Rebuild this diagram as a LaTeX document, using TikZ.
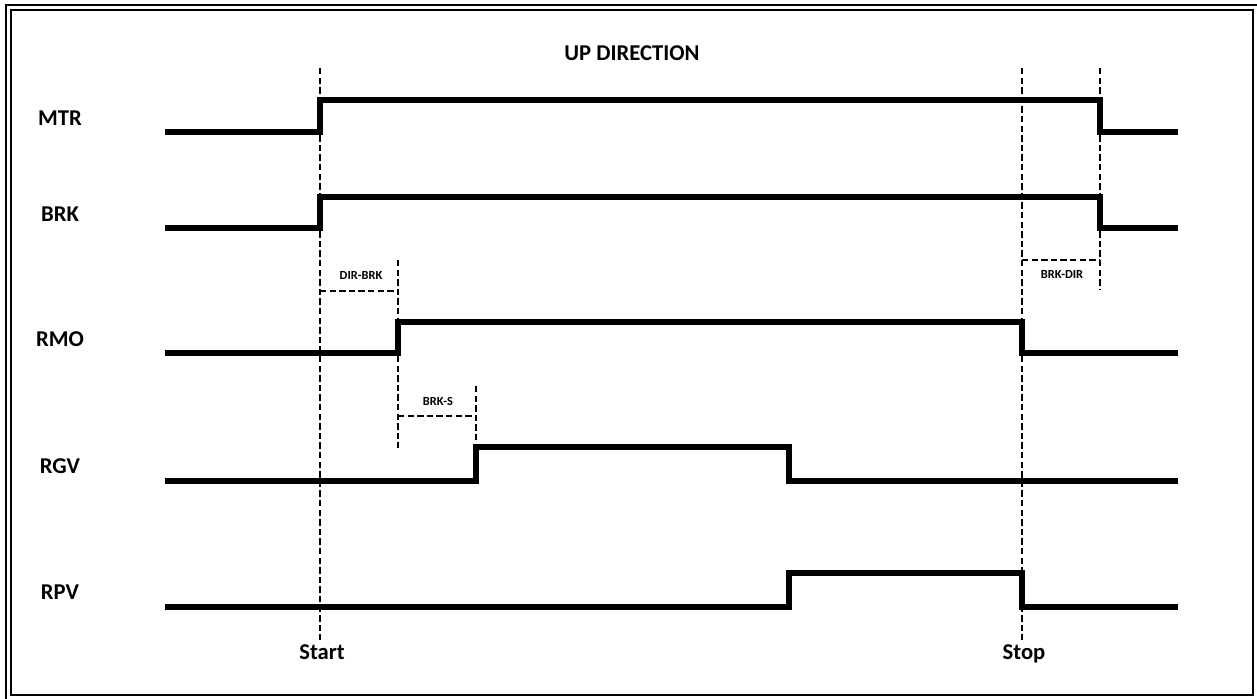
\documentclass[tikz,border=0pt]{standalone}
\usepackage{fontspec}
\setmainfont{Carlito}
\usetikzlibrary{positioning}

\tikzset{
    signal/.style={line width=2.75pt, line join=miter},
    guide/.style={line width=1.2pt, dash pattern=on 3.2pt off 1.6pt},
    siglabel/.style={font=\bfseries\fontsize{11.3}{13}\selectfont, anchor=base, inner sep=0pt},
    delaylabel/.style={font=\bfseries\fontsize{6.2}{7}\selectfont, anchor=base, inner sep=0pt},
}

\begin{document}
\begin{tikzpicture}[x=0.5pt, y=-0.5pt]
    \useasboundingbox (0,0) rectangle (1257,698);
    % frame
    \draw[line width=1pt] (6,5) rectangle (1262,703);
    \draw[line width=1pt] (11,10) rectangle (1253,695);

    \node[siglabel] (title) at (632,60) {UP DIRECTION};

    % signals: name / low / high / rise / fall
    \foreach \name/\lo/\hi/\rise/\fall in {MTR/132/100/320/1100, BRK/228/197/320/1100,
        RMO/353/322/398/1022, RGV/481/447/476/789, RPV/607/573/789/1022} {
        \node[siglabel] (\name) at (60,{(\lo+\hi)/2+9}) {\name};
        \draw[signal] (165,\lo) -- (\rise,\lo) -- (\rise,\hi) -- (\fall,\hi) -- (\fall,\lo) -- (1178,\lo);
    }

    % start / stop markers
    \coordinate (start) at (320,640);
    \coordinate (stop) at (1022,640);
    \draw[guide] (320,68) -- (start);
    \draw[guide] (1022,68) -- (stop);
    \node[siglabel] (startlbl) at (322,659) {Start};
    \node[siglabel] (stoplbl) at (1024,659) {Stop};

    % delays
    \draw[guide] (1100,68) -- (1100,290);
    \draw[guide] (398,260) -- (398,448);
    \draw[guide] (476,386) -- (476,448);
    \draw[guide] (320,291) -- (398,291);
    \draw[guide] (398,416) -- (476,416);
    \draw[guide] (1022,260) -- (1100,260);
    \node[delaylabel] (dirbrk) at (361,279) {DIR-BRK};
    \node[delaylabel] (brks) at (438,405) {BRK-S};
    \node[delaylabel] (brkdir) at (1062,278) {BRK-DIR};
\end{tikzpicture}
\end{document}
